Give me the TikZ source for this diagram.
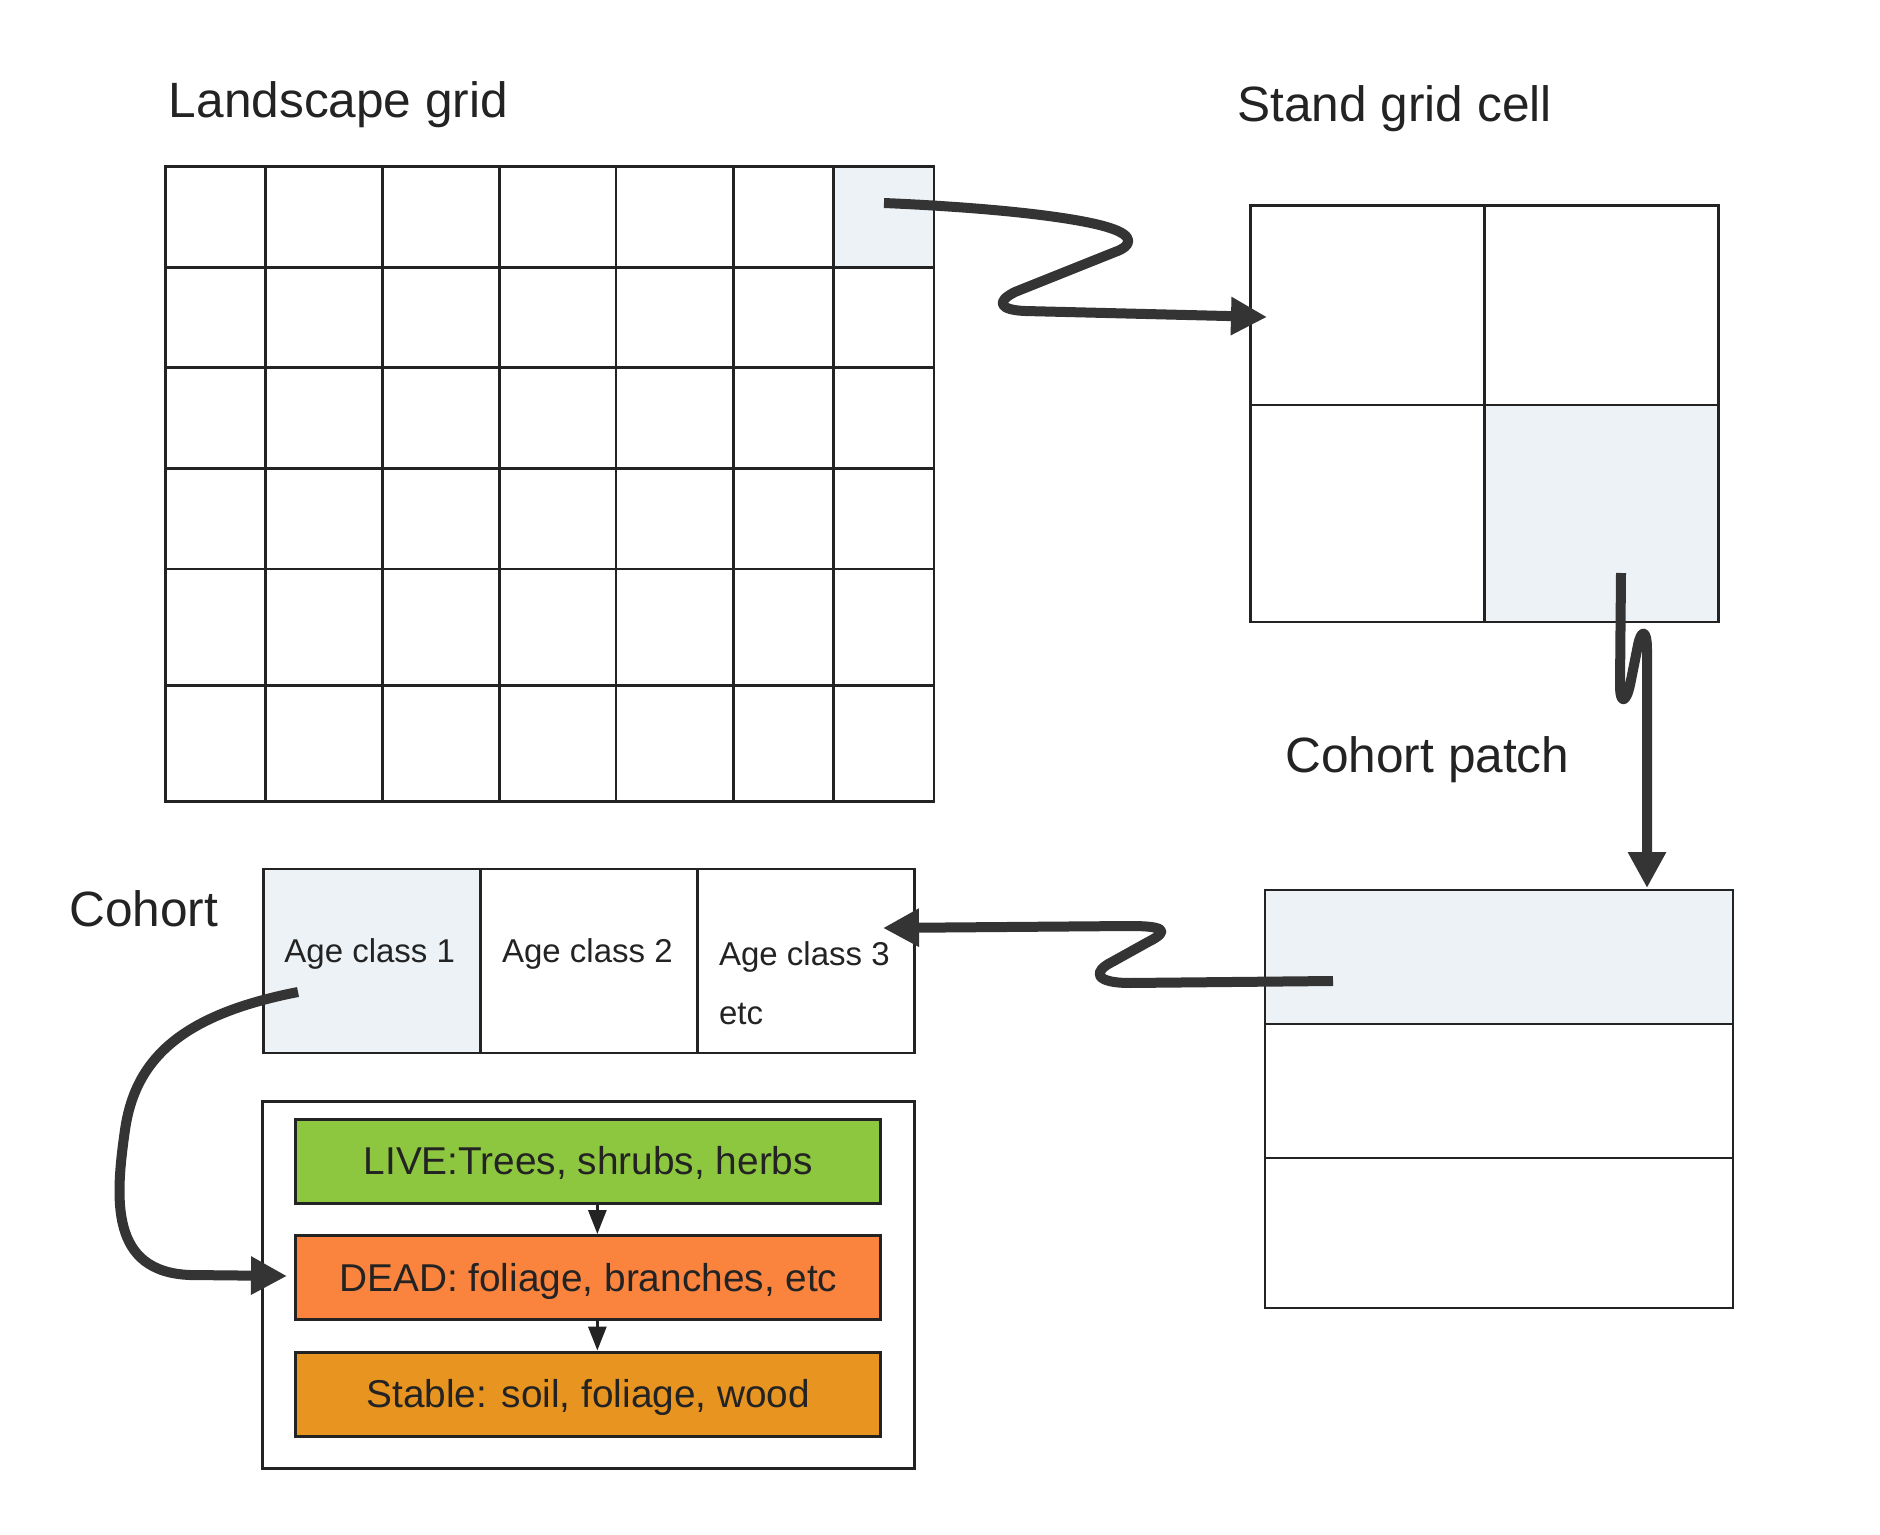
\documentclass[tikz,border=0pt]{standalone}
\usepackage{fontspec}
\setmainfont{Liberation Sans}
\usetikzlibrary{arrows.meta}
\definecolor{ink}{RGB}{35,35,35}
\definecolor{arrowc}{RGB}{52,52,52}
\definecolor{hl}{RGB}{236,242,246}
\definecolor{livec}{RGB}{141,198,63}
\definecolor{deadc}{RGB}{250,132,62}
\definecolor{stablec}{RGB}{232,148,32}
\begin{document}
\begin{tikzpicture}[x=0.5pt,y=-0.5pt,
  gridline/.style={draw=ink,line width=1.4pt},
  bigarrow/.style={draw=arrowc,line width=5pt,line join=round,-{Triangle[width=18pt,length=18pt]}},
  smallarrow/.style={draw=ink,line width=1.5pt,-{Triangle[width=9pt,length=12pt]}},
  titletext/.style={anchor=base west,inner sep=0pt,text=ink,font=\fontsize{24.8pt}{30pt}\selectfont},
  agetext/.style={anchor=base west,inner sep=0pt,text=ink,font=\fontsize{16.5pt}{20pt}\selectfont},
  colbox/.style={draw=ink,line width=1.5pt,minimum width=292.6pt,minimum height=42pt,inner sep=0pt,text height=13.9pt,text depth=0pt,text=ink,font=\fontsize{19.4pt}{23pt}\selectfont}
]
\useasboundingbox (0,0) rectangle (1880,1535);
\fill[white] (0,0) rectangle (1880,1535);

% Landscape grid
\fill[hl] (833.5,166.6) rectangle (933.9,267.5);
\foreach \x in {265.5,382.1,499.3,615.9,733.6,833.5} {\draw[gridline] (\x,166.6) -- (\x,801.6);}
\foreach \y in {267.5,367.8,468.6,568.9,685.3} {\draw[gridline] (165.1,\y) -- (933.9,\y);}
\draw[gridline] (165.1,166.6) rectangle (933.9,801.6);

% Stand grid cell
\fill[hl] (1484.3,405) rectangle (1718.6,622);
\draw[gridline] (1250.5,205.2) rectangle (1718.6,622);
\draw[gridline] (1484.3,205.2) -- (1484.3,622);
\draw[gridline] (1250.5,405) -- (1718.6,405);

% Cohort patch
\fill[hl] (1265,890) rectangle (1733,1024);
\draw[gridline] (1265,890) rectangle (1733,1308);
\draw[gridline] (1265,1024) -- (1733,1024);
\draw[gridline] (1265,1158) -- (1733,1158);

% Age classes
\fill[hl] (263.8,869) rectangle (480.8,1053);
\draw[gridline] (263.8,869) rectangle (914.8,1053);
\draw[gridline] (480.8,869) -- (480.8,1053);
\draw[gridline] (697.8,869) -- (697.8,1053);

% Container of pools
\draw[gridline] (262.4,1101.6) rectangle (914.4,1468.4);
\node[colbox,fill=livec] (live) at (588.35,1161) {LIVE:Trees, shrubs, herbs};
\node[colbox,fill=deadc] (dead) at (588.35,1277.5) {DEAD: foliage, branches, etc};
\node[colbox,fill=stablec] (stable) at (588.35,1394) {Stable: soil, foliage, wood};
\draw[smallarrow] ([xshift=4.5pt]live.south) -- ([xshift=4.5pt]dead.north);
\draw[smallarrow] ([xshift=4.5pt]dead.south) -- ([xshift=4.5pt]stable.north);

% Labels
\node[titletext] (t1) at (168.5,117.3) {Landscape grid};
\node[titletext] (t2) at (1237,122) {Stand grid cell};
\node[titletext] (t3) at (1285,772) {Cohort patch};
\node[titletext] (t4) at (69,926.5) {Cohort};
\node[agetext] (ac1) at (284,962) {Age class 1};
\node[agetext] (ac2) at (501.7,962) {Age class 2};
\node[agetext] (ac3) at (718.7,965) {Age class 3};
\node[agetext] (etc) at (718.7,1024) {etc};

% Big arrows
\coordinate (a1s) at (884,203);
\coordinate (a1e) at (1267,317);
\draw[bigarrow] (a1s) .. controls (1000,208) and (1080,218) .. (1110,228)
  .. controls (1135,236) and (1132,246) .. (1115,252) -- (1015,292)
  .. controls (995,302) and (1000,310) .. (1025,311) -- (a1e);

\coordinate (a2s) at (1621,573);
\coordinate (a2e) at (1647,888);
\draw[bigarrow] (a2s) -- (1620,685) .. controls (1620,705) and (1626,703) .. (1630,685)
  -- (1638,645) .. controls (1641,630) and (1647,628) .. (1647,650) -- (a2e);

\coordinate (a3s) at (1333,981);
\coordinate (a3e) at (883,928);
\draw[bigarrow] (a3s) -- (1130,983) .. controls (1095,983) and (1092,972) .. (1112,962)
  -- (1148,942) .. controls (1172,930) and (1162,926) .. (1130,926) -- (a3e);

\coordinate (a4s) at (298,992);
\coordinate (a4e) at (287,1276);
\draw[bigarrow] (a4s) .. controls (180,1015) and (135,1060) .. (125,1130)
  .. controls (115,1200) and (110,1272) .. (190,1275) -- (a4e);
\end{tikzpicture}
\end{document}
